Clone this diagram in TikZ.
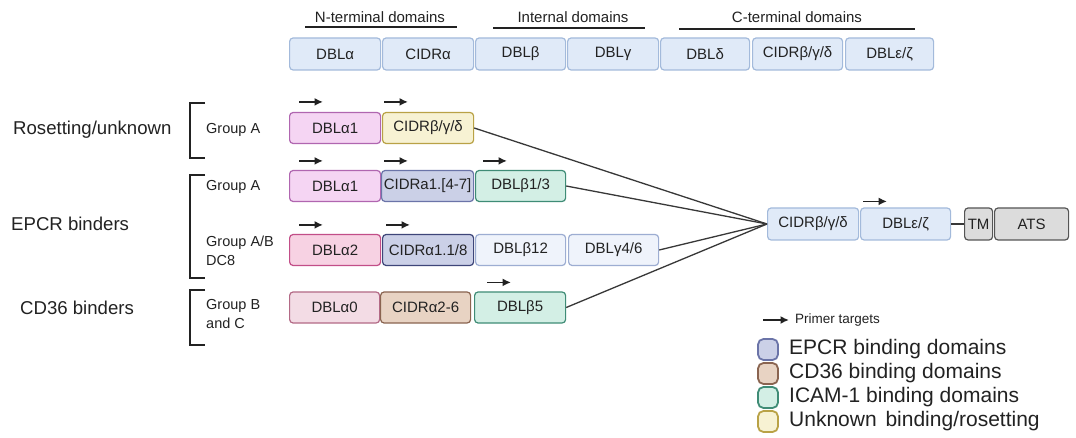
\documentclass[tikz,border=0pt]{standalone}
\usepackage{fontspec}
\setmainfont{Liberation Sans}
\usetikzlibrary{arrows.meta}
\definecolor{tbf}{HTML}{E0EAF8}\definecolor{tbd}{HTML}{A3BADB}
\definecolor{pkf}{HTML}{F5D5F3}\definecolor{pkd}{HTML}{B066B0}
\definecolor{ylf}{HTML}{F7F2D3}\definecolor{yld}{HTML}{B9A246}
\definecolor{epf}{HTML}{CBD0E7}\definecolor{epd}{HTML}{6B74A8}
\definecolor{epd2}{HTML}{3E4679}
\definecolor{tlf}{HTML}{D3EFE5}\definecolor{tld}{HTML}{3F8C76}
\definecolor{rsf}{HTML}{F7D2E3}\definecolor{rsd}{HTML}{C24E88}
\definecolor{wbf}{HTML}{EFF3FB}\definecolor{wbd}{HTML}{9DADD2}
\definecolor{a0f}{HTML}{F3DCE5}\definecolor{a0d}{HTML}{B36A86}
\definecolor{cdf}{HTML}{E8D3C3}\definecolor{cdd}{HTML}{8A6450}
\definecolor{gyf}{HTML}{DCDCDC}\definecolor{gyd}{HTML}{555555}
\definecolor{ink}{HTML}{222222}
\tikzset{
  dom/.style={draw, rounded corners=3.5pt, line width=1.2pt, minimum height=31pt,
    inner sep=0pt, anchor=west, font=\fontsize{15}{17}\selectfont, text=ink},
  topdom/.style={dom, fill=tbf, draw=tbd, minimum height=32pt},
  primer/.style={-{Latex[length=8.5pt,width=8pt]}, line width=1.6pt, draw=ink},
  conn/.style={line width=1.3pt, draw=ink!90},
  brk/.style={line width=2pt, draw=ink},
  grp/.style={anchor=west, align=left, font=\fontsize{14.5}{19}\selectfont, text=ink, inner sep=0pt},
  big/.style={anchor=west, font=\fontsize{18.6}{20}\selectfont, text=ink, inner sep=0pt},
  toplab/.style={font=\fontsize{15}{17}\selectfont, text=ink, inner sep=0pt},
  legbox/.style={draw, rounded corners=5.5pt, line width=1.8pt, minimum width=20pt, minimum height=21pt, inner sep=0pt},
  legtxt/.style={anchor=west, font=\fontsize{21}{23}\selectfont, text=ink, inner sep=0pt}
}
\begin{document}
\begin{tikzpicture}[x=1pt,y=-1pt]
\useasboundingbox[fill=white] (0,0) rectangle (1076,438);

% top labels
\node[toplab] (ln) at (380,17) {N-terminal domains};
\node[toplab] (li) at (573,17) {Internal domains};
\node[toplab] (lc) at (797,17) {C-terminal domains};
\draw[line width=1.3pt, ink] (305,27) -- (457,27);
\draw[line width=1.3pt, ink] (493,28) -- (645,28);
\draw[line width=1.3pt, ink] (679,29) -- (915,29);

% top row
\node[topdom, minimum width=91pt] (t1) at (289,54) {DBLα};
\node[topdom, minimum width=91pt] (t2) at (382,54) {CIDRα};
\node[topdom, minimum width=90pt] (t3) at (475,54) {DBLβ};
\node[topdom, minimum width=91pt] (t4) at (567,54) {DBLγ};
\node[topdom, minimum width=89pt] (t5) at (660,54) {DBLδ};
\node[topdom, minimum width=90pt] (t6) at (752,54) {CIDRβ/γ/δ};
\node[topdom, minimum width=88pt] (t7) at (845,54) {DBLε/ζ};

% big labels
\node[big] (bros) at (13,130) {Rosetting/unknown};
\node[big] (bepcr) at (11,224) {EPCR binders};
\node[big] (bcd) at (20,308) {CD36 binders};

% brackets
\draw[brk] (205,103) -- (190,103) -- (190,158) -- (205,158);
\draw[brk] (205,175) -- (190,175) -- (190,278) -- (205,278);
\draw[brk] (205,290) -- (190,290) -- (190,345) -- (205,345);

% group labels
\node[grp] (g1) at (206,130) {Group A};
\node[grp] (g2) at (206,187) {Group A};
\node[grp] (g3) at (206,251) {Group A/B\\DC8};
\node[grp] (g4) at (206,314) {Group B\\and C};

% row 1
\node[dom, fill=pkf, draw=pkd, minimum width=91pt] (r1a) at (289,128) {DBLα1};
\node[dom, fill=ylf, draw=yld, minimum width=91pt] (r1b) at (382,128) {CIDRβ/γ/δ};
% row 2
\node[dom, fill=pkf, draw=pkd, minimum width=91pt] (r2a) at (289,186) {DBLα1};
\node[dom, fill=epf, draw=epd, minimum width=92pt] (r2b) at (381,186) {CIDRa1.[4-7]};
\node[dom, fill=tlf, draw=tld, minimum width=90pt] (r2c) at (475,186) {DBLβ1/3};
% row 3
\node[dom, fill=rsf, draw=rsd, minimum width=91pt] (r3a) at (289,250) {DBLα2};
\node[dom, fill=epf, draw=epd2, minimum width=91pt] (r3b) at (382,250) {CIDRα1.1/8};
\node[dom, fill=wbf, draw=wbd, minimum width=90pt] (r3c) at (475,250) {DBLβ12};
\node[dom, fill=wbf, draw=wbd, minimum width=90pt] (r3d) at (568,250) {DBLγ4/6};
% row 4
\node[dom, fill=a0f, draw=a0d, minimum width=90pt] (r4a) at (289,307.5) {DBLα0};
\node[dom, fill=cdf, draw=cdd, minimum width=90pt] (r4b) at (380,307.5) {CIDRα2-6};
\node[dom, fill=tlf, draw=tld, minimum width=91pt] (r4c) at (474,307.5) {DBLβ5};

% right
\node[dom, fill=tbf, draw=tbd, minimum width=91pt, minimum height=32pt] (hub) at (767,224) {CIDRβ/γ/δ};
\node[dom, fill=tbf, draw=tbd, minimum width=90pt, minimum height=32pt] (re) at (860,224) {DBLε/ζ};
\node[dom, fill=gyf, draw=gyd, minimum width=28pt, minimum height=32pt] (tm) at (964,224) {TM};
\node[dom, fill=gyf, draw=gyd, minimum width=74pt, minimum height=32pt] (ats) at (994,224) {ATS};

% connectors
\draw[conn] (r1b.east) -- (hub.west);
\draw[conn] (r2c.east) -- (hub.west);
\draw[conn] (r3d.east) -- (hub.west);
\draw[conn] (r4c.east) -- (hub.west);
\draw[conn] (re.east) -- (tm.west);

% primer arrows
\draw[primer] ([shift={(10,-10)}]r1a.north west) -- ++(24,0);
\draw[primer] ([shift={(2,-10)}]r1b.north west) -- ++(24,0);
\draw[primer] ([shift={(10,-9)}]r2a.north west) -- ++(24,0);
\draw[primer] ([shift={(3,-9)}]r2b.north west) -- ++(24,0);
\draw[primer] ([shift={(8,-9)}]r2c.north west) -- ++(24,0);
\draw[primer] ([shift={(10,-9)}]r3a.north west) -- ++(24,0);
\draw[primer] ([shift={(4,-9)}]r3b.north west) -- ++(24,0);
\draw[primer] ([shift={(13,-9)}]r4c.north west) -- ++(24,0);
\draw[primer] ([shift={(3,-6)}]re.north west) -- ++(24,0);

% legend
\coordinate (la) at (763,320);
\coordinate (lb) at (789,320);
\draw[primer] (la) -- (lb);
\node[anchor=west, font=\fontsize{13.5}{15}\selectfont, text=ink, inner sep=0pt] (lp) at (795,320) {Primer targets};
\node[legbox, fill=epf, draw=epd] (k1) at (768,349.5) {};
\node[legbox, fill=cdf, draw=cdd] (k2) at (768,373.5) {};
\node[legbox, fill=tlf, draw=tld] (k3) at (768,397.5) {};
\node[legbox, fill=ylf, draw=yld] (k4) at (768,421.5) {};
\node[legtxt] (kt1) at (789,349.5) {EPCR binding domains};
\node[legtxt] (kt2) at (789,373.5) {CD36 binding domains};
\node[legtxt] (kt3) at (789,397.5) {ICAM-1 binding domains};
\node[legtxt] (kt4) at (789,421.5) {Unknown\hspace{3pt} binding/rosetting};
\end{tikzpicture}
\end{document}
